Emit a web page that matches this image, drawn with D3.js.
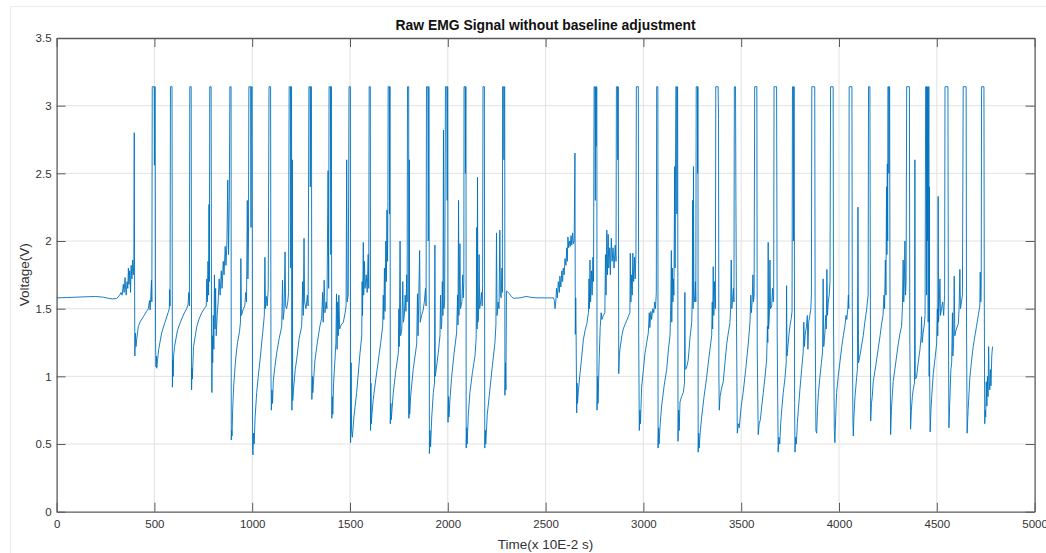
<!DOCTYPE html>
<html>
<head>
<meta charset="utf-8">
<script src="https://cdn.jsdelivr.net/npm/d3@7"></script>
<style>
  html, body { margin: 0; padding: 0; background: #fff; }
  svg { display: block; }
  text { font-family: "Liberation Sans", Arial, Helvetica, sans-serif; }
</style>
</head>
<body>
<svg id="chart" width="1046" height="553"></svg>
<script>
// ---------------- data (time in units of 10E-2 s, voltage in V) ----------------
const titleText = "Raw EMG Signal without baseline adjustment";
const xLabelText = "Time(x 10E-2 s)";
const yLabelText = "Voltage(V)";
const xTicks = [0, 500, 1000, 1500, 2000, 2500, 3000, 3500, 4000, 4500, 5000];
const yTicks = [0, 0.5, 1, 1.5, 2, 2.5, 3, 3.5];

const restStart = [[0,1.58],[50,1.582],[100,1.585],[150,1.588],[200,1.59],[240,1.585],[260,1.578],[285,1.572],[305,1.575],[315,1.585],[322,1.60],[330,1.62],[335,1.60],[341,1.68],[345,1.62],[350,1.73],[353,1.64],[356,1.60],[360,1.70],[364,1.65],[367,1.80],[370,1.68],[374,1.78],[378,1.62],[381,1.82],[385,1.72],[389,1.86],[392,1.75],[395,1.84]];

const burst1 = [[397,2.80],[399,1.55],[400,1.15],[403,1.32],[406,1.22],[410,1.28],[418,1.37],[426,1.40],[443,1.44],[460,1.48],[469,1.50],[475,1.56],[478,1.49],[482,1.60],[485,1.71],[487,1.55],
[489,3.14],[499,3.14],[500,2.56],[502,3.14],[504,3.14],[506,1.25],[508,1.07],[510,1.15],[512,1.06],[516,1.12],[522,1.20],[537,1.32],[554,1.40],[570,1.47],[576,1.50],[578,1.64],[580,1.52],
[582,3.14],[590,3.14],[592,0.92],[594,1.12],[596,1.0],[598,1.15],[603,1.22],[618,1.34],[633,1.40],[650,1.46],[665,1.50],[672,1.53],[676,1.62],[679,1.52],
[681,3.14],[688,3.14],[690,0.90],[692,1.06],[694,0.98],[697,1.10],[700,1.22],[717,1.37],[730,1.43],[742,1.47],[755,1.50],[765,1.52],[768,1.72],[771,1.55],[774,1.85],[777,1.6],[779,2.27],[781,1.7],
[783,3.14],[790,3.14],[792,1.4],[794,0.88],[796,1.30],[798,1.10],[801,1.45],[804,1.2],[807,1.75],[810,1.35],[813,1.65],[816,1.3],[821,1.45],[826,1.55],[831,1.72],[836,1.6],[842,1.78],[846,1.65],[852,1.85],[856,1.75],[862,1.96],[866,1.82],[871,2.0],[875,2.45],[879,1.9],[883,2.3],
[886,3.14],[892,3.14],[893,0.53],[895,0.60],[897,0.56],[900,0.75],[905,0.92],[915,1.12],[925,1.25],[935,1.33],[940,1.40],[942,1.87],[945,1.45],[955,1.50],[962,1.52],[967,1.62],[971,1.55],[975,2.3],[978,1.72],[981,2.0],
[983,3.14],[992,3.14],[994,2.1],[996,3.14],[1000,3.14],[1002,0.45],[1004,0.42],[1007,0.58],[1010,0.50],[1015,0.70],[1023,0.88],[1031,1.0],[1040,1.12],[1050,1.27],[1057,1.37],[1062,1.45],[1065,1.88],[1068,1.5],[1073,1.59],[1077,1.52],[1082,1.65],
[1086,3.14],[1094,3.14],[1096,1.0],[1098,0.75],[1101,0.90],[1104,0.80],[1108,0.97],[1116,1.07],[1125,1.17],[1138,1.28],[1151,1.37],[1155,1.71],[1158,1.42],[1163,1.48],[1168,1.92],[1171,1.52],[1176,1.50],[1182,1.55],[1186,1.62],
[1189,3.14],[1196,3.14],[1197,1.8],[1199,3.14],[1201,3.14],[1203,0.75],[1205,2.6],[1207,0.82],[1211,0.90],[1220,1.05],[1227,1.12],[1240,1.28],[1253,1.37],[1258,1.7],[1261,1.45],[1265,2.02],[1268,1.55],[1275,1.50],[1282,1.6],[1286,1.52],
[1290,3.14],[1296,3.14],[1297,2.4],[1299,3.14],[1303,3.14],[1305,0.83],[1308,1.0],[1310,0.88],[1315,1.0],[1321,1.12],[1333,1.25],[1346,1.37],[1355,1.43],[1360,1.62],[1363,1.40],[1368,1.71],[1372,1.47],[1378,1.55],[1382,1.5],[1388,2.52],[1391,1.65],
[1393,3.14],[1400,3.14],[1402,1.9],[1403,3.14],[1405,3.14],[1407,0.69],[1410,0.85],[1412,0.72],[1416,0.95],[1423,1.12],[1428,1.25],[1431,1.61],[1434,1.2],[1437,1.55],[1440,1.3],[1443,1.6],[1447,1.35],[1455,1.38],[1466,1.40],[1475,1.47],[1480,1.52],[1483,2.6],[1486,1.55],[1491,1.6],
[1495,3.14],[1502,3.14],[1503,0.51],[1506,1.1],[1508,0.60],[1512,0.55],[1520,0.70],[1534,0.88],[1551,1.17],[1560,1.30],[1562,1.7],[1564,1.45],[1568,1.99],[1570,1.6],[1574,1.85],[1577,1.65],[1583,1.75],[1588,1.62],[1593,1.9],[1596,1.65],
[1598,3.14],[1604,3.14],[1605,0.60],[1607,0.95],[1609,0.65],[1612,0.72],[1619,0.83],[1632,0.98],[1645,1.12],[1657,1.25],[1667,1.37],[1670,1.6],[1673,1.42],[1676,1.8],[1679,1.48],[1683,2.0],[1686,1.7],[1689,2.23],[1692,1.85],[1694,2.3],
[1695,3.14],[1701,3.14],[1702,2.2],[1703,3.14],[1705,3.14],[1706,0.65],[1709,0.80],[1711,0.68],[1721,0.875],[1735,1.05],[1747,1.17],[1750,1.5],[1752,1.22],[1756,2.0],[1759,1.3],[1765,1.35],[1770,1.7],[1773,1.40],[1778,1.45],[1782,1.6],[1786,1.48],[1790,1.75],[1792,1.55],
[1794,3.14],[1800,3.14],[1801,0.69],[1803,2.6],[1805,0.72],[1810,0.85],[1823,1.05],[1841,1.24],[1845,1.61],[1848,1.30],[1856,1.93],[1859,1.40],[1866,1.45],[1874,1.49],[1880,1.55],[1886,1.65],[1889,1.52],
[1891,3.14],[1898,3.14],[1900,2.0],[1902,3.14],[1904,3.14],[1906,0.43],[1909,0.60],[1912,0.48],[1918,0.70],[1926,0.88],[1932,0.95],[1934,1.97],[1936,1.0],[1945,1.10],[1951,1.17],[1960,1.30],[1963,1.6],[1966,1.35],[1969,1.39],[1972,1.7],[1975,1.45],[1978,2.82],[1980,1.5],[1984,1.55],
[1988,3.14],[1995,3.14],[1997,2.3],[1998,3.14],[2000,3.14],[2001,0.66],[2004,0.85],[2006,0.70],[2012,0.85],[2020,1.0],[2032,1.17],[2045,1.32],[2050,1.6],[2052,1.38],[2055,2.3],[2057,1.45],[2062,1.98],[2065,1.5],[2072,1.55],[2076,1.75],[2079,1.58],[2082,1.7],
[2083,3.14],[2089,3.14],[2090,2.5],[2091,3.14],[2093,3.14],[2094,0.47],[2097,0.62],[2099,0.50],[2105,0.72],[2113,0.88],[2126,1.03],[2139,1.15],[2145,1.28],[2148,2.1],[2150,1.35],[2152,2.47],[2154,1.40],[2157,1.44],[2160,1.9],[2163,1.5],[2168,1.55],[2172,1.62],[2176,1.52],[2178,1.68],
[2180,3.14],[2187,3.14],[2189,0.47],[2192,0.60],[2194,0.50],[2202,0.72],[2215,0.90],[2228,1.08],[2241,1.25],[2246,1.38],[2249,2.06],[2252,1.45],[2257,1.55],[2262,1.5],[2266,2.08],[2269,1.6],[2273,1.58],[2277,1.8],[2279,1.62],
[2280,3.14],[2286,3.14],[2287,2.6],[2288,3.14],[2291,3.14],[2292,0.86],[2295,1.1],[2297,0.9],[2300,1.63]];

const restMid = [[2305,1.626],[2315,1.61],[2325,1.59],[2335,1.577],[2350,1.578],[2370,1.58],[2390,1.587],[2405,1.59],[2420,1.585],[2450,1.58],[2480,1.58],[2510,1.58],[2530,1.58],[2540,1.58],[2545,1.56]];

const burst2 = [[2548,1.50],[2552,1.55],[2556,1.65],[2560,1.58],[2565,1.70],[2570,1.62],[2573,1.74],[2578,1.66],[2583,1.78],[2587,1.70],[2590,1.80],[2595,1.75],[2599,1.87],[2604,1.82],[2608,1.95],[2611,1.85],[2614,2.03],[2618,1.95],[2622,2.0],[2626,1.96],[2630,2.04],[2634,1.97],[2638,2.06],[2642,1.98],[2646,2.0],
[2650,2.65],[2652,1.31],[2654,1.58],[2656,1.31],[2659,0.73],[2661,0.95],[2663,0.80],[2668,0.90],[2676,1.02],[2685,1.15],[2693,1.27],[2702,1.34],[2711,1.39],[2719,1.47],[2722,1.72],[2724,1.50],[2727,1.86],[2730,1.55],[2735,1.78],[2738,1.6],[2742,1.88],[2745,1.7],
[2748,3.14],[2752,3.14],[2754,2.3],[2756,3.14],[2758,2.7],[2760,3.14],[2762,3.14],[2763,0.75],[2766,1.0],[2768,0.80],[2774,1.13],[2779,1.36],[2784,1.47],[2788,1.42],[2795,1.45],[2803,1.47],[2806,1.9],[2809,1.6],[2813,2.08],[2816,1.75],[2820,2.05],[2823,1.8],[2828,1.95],[2831,1.75],[2836,2.02],[2840,1.85],[2845,1.95],[2850,1.8],[2856,1.97],[2860,1.85],
[2862,3.14],[2868,3.14],[2869,2.6],[2871,3.14],[2872,2.4],[2874,1.02],[2877,1.15],[2880,1.2],[2890,1.30],[2897,1.35],[2905,1.38],[2914,1.41],[2922,1.44],[2931,1.47],[2933,1.91],[2936,1.55],[2940,1.75],[2943,1.6],[2946,1.91],[2950,1.7],[2955,1.88],[2958,1.72],[2962,1.9],
[2964,3.14],[2974,3.14],[2976,1.3],[2979,0.60],[2982,0.75],[2985,0.65],[2991,0.92],[3000,1.05],[3008,1.17],[3017,1.25],[3025,1.32],[3030,1.47],[3033,1.36],[3038,1.48],[3042,1.42],[3048,1.50],[3053,1.47],[3058,1.55],[3062,1.50],[3066,1.62],
[3068,3.14],[3074,3.14],[3075,0.47],[3078,0.62],[3080,0.50],[3086,0.65],[3093,0.78],[3106,0.93],[3119,1.05],[3128,1.20],[3136,1.30],[3140,1.55],[3143,1.93],[3145,1.4],[3148,1.80],[3151,1.55],[3153,1.72],[3156,1.6],[3160,2.55],[3162,1.8],
[3166,3.14],[3170,3.14],[3171,2.2],[3173,3.14],[3175,3.14],[3177,0.52],[3180,0.75],[3183,0.60],[3187,0.81],[3195,0.85],[3204,0.88],[3210,0.95],[3212,1.62],[3214,1.05],[3220,1.06],[3229,1.12],[3238,1.28],[3247,1.40],[3250,1.6],[3252,2.3],[3254,1.5],[3256,2.55],[3258,1.6],[3262,1.55],[3266,1.7],[3268,1.55],
[3270,3.14],[3276,3.14],[3277,2.5],[3278,3.14],[3279,3.14],[3280,0.44],[3283,0.58],[3285,0.47],[3290,0.58],[3298,0.70],[3310,0.85],[3323,0.99],[3336,1.15],[3349,1.30],[3352,1.55],[3354,1.35],[3357,1.81],[3360,1.45],[3364,1.70],[3368,1.5],
[3370,3.14],[3382,3.14],[3384,2.9],[3386,1.0],[3388,0.75],[3392,0.85],[3398,0.90],[3408,0.96],[3417,1.10],[3426,1.24],[3434,1.32],[3442,1.39],[3446,1.5],[3449,1.86],[3452,1.5],[3456,1.57],[3460,1.65],[3463,1.55],
[3465,3.14],[3471,3.14],[3473,2.3],[3476,1.4],[3480,0.58],[3485,0.65],[3490,0.62],[3500,0.78],[3510,0.88],[3523,1.05],[3536,1.24],[3545,1.40],[3549,1.6],[3552,1.47],[3556,1.55],[3560,1.75],[3563,1.55],[3566,1.6],
[3569,3.14],[3580,3.14],[3582,1.2],[3587,0.57],[3592,0.65],[3598,0.68],[3605,0.78],[3613,0.88],[3622,1.0],[3630,1.12],[3634,1.37],[3636,1.25],[3638,1.99],[3640,1.35],[3644,1.45],[3647,1.86],[3650,1.5],[3656,1.52],[3660,1.65],[3664,1.55],[3666,1.6],
[3668,3.14],[3681,3.14],[3684,1.3],[3689,0.44],[3693,0.55],[3697,0.50],[3702,0.65],[3707,0.75],[3715,0.88],[3724,0.99],[3730,1.10],[3732,1.67],[3734,1.15],[3740,1.24],[3745,1.32],[3750,1.38],[3755,1.42],[3760,1.48],
[3762,3.14],[3766,3.14],[3767,2.0],[3769,3.14],[3771,3.14],[3773,0.8],[3775,0.44],[3778,0.55],[3782,0.50],[3787,0.65],[3792,0.75],[3800,0.90],[3809,1.05],[3817,1.18],[3820,1.4],[3823,1.22],[3828,1.32],[3834,1.37],[3838,1.45],[3841,1.2],[3845,1.4],[3851,1.45],[3856,1.5],[3859,1.6],
[3861,3.14],[3876,3.14],[3878,1.5],[3882,0.60],[3886,0.58],[3890,0.75],[3895,0.88],[3902,0.99],[3910,1.10],[3916,1.18],[3919,1.72],[3922,1.22],[3928,1.32],[3932,1.45],[3935,1.35],[3938,1.79],[3941,1.45],[3945,1.55],[3950,1.6],[3954,1.7],
[3957,3.14],[3970,3.14],[3972,1.4],[3976,0.6],[3979,0.51],[3983,0.7],[3988,0.88],[3996,1.0],[4006,1.12],[4014,1.22],[4022,1.30],[4030,1.37],[4036,1.45],[4040,1.42],[4045,1.5],[4048,1.6],[4050,1.5],
[4052,3.14],[4066,3.14],[4068,1.5],[4071,0.7],[4073,0.56],[4077,0.72],[4082,0.85],[4090,0.99],[4094,1.05],[4097,2.25],[4100,1.1],[4110,1.18],[4124,1.30],[4132,1.40],[4141,1.49],[4145,1.55],[4149,1.6],
[4151,3.14],[4158,3.14],[4160,1.8],[4162,0.67],[4166,0.8],[4170,0.85],[4175,0.96],[4188,1.08],[4200,1.2],[4210,1.30],[4218,1.39],[4225,1.45],[4230,1.6],[4233,1.5],[4237,1.86],[4240,1.6],[4243,2.4],[4245,1.9],[4247,2.57],[4249,2.0],
[4250,3.14],[4254,3.14],[4255,2.5],[4257,3.14],[4259,3.14],[4261,1.2],[4264,0.57],[4268,0.75],[4272,0.85],[4277,0.96],[4290,1.1],[4303,1.24],[4312,1.32],[4320,1.37],[4324,1.5],[4328,1.86],[4331,1.55],[4334,1.7],[4337,2.0],[4340,1.6],[4343,1.7],
[4346,3.14],[4360,3.14],[4362,1.3],[4366,0.61],[4370,0.75],[4375,0.85],[4379,0.90],[4386,0.95],[4388,2.6],[4390,0.98],[4396,0.99],[4405,1.1],[4414,1.2],[4420,1.3],[4422,1.44],[4425,1.25],[4430,1.32],[4436,1.38],[4440,1.45],
[4443,3.14],[4447,3.14],[4448,1.6],[4450,3.14],[4452,2.0],[4454,3.14],[4456,1.4],[4458,3.14],[4460,3.14],[4461,1.0],[4462,2.4],[4463,1.1],[4466,0.59],[4470,0.75],[4474,0.85],[4482,1.02],[4490,1.12],[4499,1.24],[4503,1.5],[4505,1.3],[4507,2.33],[4509,1.4],[4513,1.55],[4516,1.72],[4519,1.45],[4524,1.5],[4530,1.55],[4535,1.45],[4540,1.6],
[4542,3.14],[4557,3.14],[4559,1.5],[4562,0.62],[4566,0.8],[4572,1.05],[4576,1.1],[4580,1.47],[4582,1.15],[4586,1.25],[4589,1.74],[4592,1.3],[4600,1.35],[4610,1.39],[4614,1.5],[4618,1.79],[4621,1.5],[4626,1.55],[4631,1.6],
[4635,3.14],[4650,3.14],[4652,1.4],[4655,0.58],[4660,0.75],[4669,0.99],[4678,1.12],[4686,1.22],[4695,1.30],[4703,1.37],[4712,1.45],[4720,1.52],[4722,1.77],[4725,1.55],[4727,1.65],
[4729,3.14],[4741,3.14],[4743,1.5],[4745,0.65],[4748,0.75],[4750,0.70],[4753,0.96],[4756,0.78],[4759,1.0],[4762,0.85],[4765,1.22],[4768,0.96],[4771,0.90],[4774,1.05],[4777,0.93],[4781,1.15],[4785,1.22]];

// ---------------- layout ----------------
const plot = { left: 56.6, right: 1034.6, top: 38, bottom: 511.7 };

const svg = d3.select("#chart");

// faint figure frame
svg.append("rect")
  .attr("x", 10.5).attr("y", 6.5).attr("width", 1060).attr("height", 600)
  .attr("fill", "none").attr("stroke", "#ececec").attr("stroke-width", 1);

const x = d3.scaleLinear().domain([0, 5000]).range([plot.left, plot.right]);
const y = d3.scaleLinear().domain([0, 3.5]).range([plot.bottom, plot.top]);

// grid
const grid = svg.append("g").attr("class", "grid");
grid.selectAll("line.gx").data(xTicks.slice(1, -1)).join("line")
  .attr("x1", d => x(d)).attr("x2", d => x(d))
  .attr("y1", plot.top).attr("y2", plot.bottom)
  .attr("stroke", "#e2e2e2").attr("stroke-width", 1);
grid.selectAll("line.gy").data(yTicks.slice(1, -1)).join("line")
  .attr("x1", plot.left).attr("x2", plot.right)
  .attr("y1", d => y(d)).attr("y2", d => y(d))
  .attr("stroke", "#e2e2e2").attr("stroke-width", 1);

// signal
const signal = restStart.concat(burst1, restMid, burst2);
const line = d3.line().x(d => x(d[0])).y(d => y(d[1])).curve(d3.curveLinear);
svg.append("path")
  .datum(signal)
  .attr("d", line)
  .attr("fill", "none")
  .attr("stroke", "#0072BD")
  .attr("stroke-width", 0.9)
  .attr("stroke-linejoin", "round");

// axes
const axisColor = "#5a5a5a";
const tickFont = 11.5;
function styleAxis(g) {
  g.select(".domain").attr("stroke", axisColor).attr("stroke-width", 1.3);
  g.selectAll(".tick line").attr("stroke", axisColor).attr("stroke-width", 1);
  g.selectAll(".tick text").attr("fill", "#333").attr("font-size", tickFont)
    .attr("font-family", "Liberation Sans, Arial, sans-serif");
}

const fmtY = v => String(v);

svg.append("g").attr("transform", `translate(0,${plot.bottom})`)
  .call(d3.axisBottom(x).tickValues(xTicks).tickFormat(d3.format("d"))
    .tickSizeInner(-9).tickSizeOuter(0).tickPadding(8))
  .call(styleAxis);

svg.append("g").attr("transform", `translate(0,${plot.top})`)
  .call(d3.axisTop(x).tickValues(xTicks).tickFormat("")
    .tickSizeInner(-9).tickSizeOuter(0))
  .call(styleAxis);

svg.append("g").attr("transform", `translate(${plot.left},0)`)
  .call(d3.axisLeft(y).tickValues(yTicks).tickFormat(fmtY)
    .tickSizeInner(-9).tickSizeOuter(0).tickPadding(5))
  .call(styleAxis);

svg.append("g").attr("transform", `translate(${plot.right},0)`)
  .call(d3.axisRight(y).tickValues(yTicks).tickFormat("")
    .tickSizeInner(-9).tickSizeOuter(0))
  .call(styleAxis);

// title & labels
const cx = (plot.left + plot.right) / 2;
svg.append("text")
  .attr("x", cx).attr("y", 30)
  .attr("text-anchor", "middle")
  .attr("font-size", 13.9).attr("font-weight", "bold").attr("fill", "#111")
  .text(titleText);

svg.append("text")
  .attr("x", cx).attr("y", 549)
  .attr("text-anchor", "middle")
  .attr("font-size", 13.5).attr("fill", "#333")
  .text(xLabelText);

svg.append("text")
  .attr("transform", `translate(28.5,${(plot.top + plot.bottom) / 2}) rotate(-90)`)
  .attr("text-anchor", "middle")
  .attr("font-size", 13.5).attr("fill", "#333")
  .text(yLabelText);
</script>
</body>
</html>
